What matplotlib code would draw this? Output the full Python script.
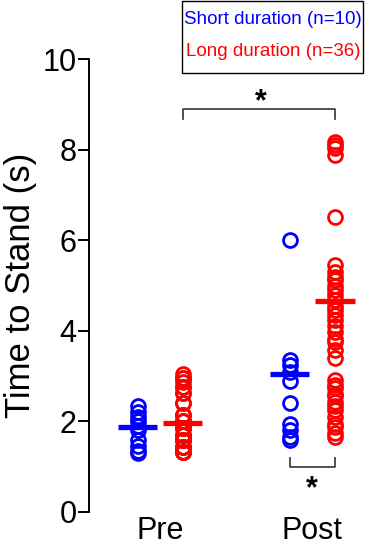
import numpy as np
import matplotlib
matplotlib.use("Agg")
import matplotlib.pyplot as plt
from matplotlib.patches import Rectangle

plt.rcParams['font.family'] = ['Liberation Sans', 'DejaVu Sans']

# data
groups = ["Pre", "Post"]
short_pre = [2.35, 2.2, 2.1, 2.0, 1.9, 1.8, 1.6, 1.45, 1.35, 1.3]
short_post = [6.0, 3.35, 3.25, 3.1, 2.9, 2.4, 1.95, 1.8, 1.65, 1.6]
long_pre = [3.05, 2.95, 2.95, 2.88, 2.77, 2.77, 2.63, 2.63, 2.4, 2.4,
            2.14, 2.14, 2.14, 2.0, 2.0, 2.0, 1.85, 1.85, 1.85, 1.85,
            1.7, 1.7, 1.7, 1.59, 1.59, 1.59, 1.59, 1.44, 1.44, 1.44,
            1.44, 1.33, 1.33, 1.33, 1.33, 1.33]
long_post = [8.17, 8.1, 8.03, 7.88, 6.52,
             5.45, 5.3, 5.19, 5.12, 5.0, 4.9, 4.8, 4.68, 4.55, 4.46,
             4.35, 4.24, 4.1, 3.98, 3.83, 3.76, 3.58, 3.39,
             2.91, 2.8, 2.73, 2.6, 2.55, 2.43, 2.35, 2.25, 2.1, 1.95,
             1.88, 1.75, 1.66]
short_means = [1.87, 3.05]
long_means = [1.97, 4.66]
labels = ["Short duration (n=10)", "Long duration (n=36)"]

blue = "#0000ff"
red = "#ff0000"
off = 0.148

fig = plt.figure(figsize=(3.67, 5.49), dpi=100)
ax = fig.add_axes([0.2425, 0.0674, 0.7575, 0.8251])

for i, (s, l) in enumerate([(short_pre, long_pre), (short_post, long_post)]):
    ax.plot([i - off] * len(s), s, 'o', mfc='none', mec=blue, ms=10, mew=2.0, clip_on=False)
    ax.plot([i + off] * len(l), l, 'o', mfc='none', mec=red, ms=10, mew=2.0, clip_on=False)
    ax.plot([i - off - 0.13, i - off + 0.13], [short_means[i]] * 2, color=blue, lw=3.8,
            solid_capstyle='butt')
    ax.plot([i + off - 0.13, i + off + 0.13], [long_means[i]] * 2, color=red, lw=3.8,
            solid_capstyle='butt')

# significance brackets
bc = "#333333"
ax.plot([off, off, 1 + off, 1 + off], [8.68, 8.9, 8.9, 8.68], color=bc, lw=1.2, clip_on=False)
ax.text(0.66, 9.05, "*", ha='center', va='center', fontsize=22, fontweight='bold')
ax.plot([1 - off, 1 - off, 1 + off, 1 + off], [1.19, 0.99, 0.99, 1.19], color=bc, lw=1.2, clip_on=False)
ax.text(1.0, 0.5, "*", ha='center', va='center', fontsize=22, fontweight='bold')

ax.set_xlim(-0.467, 1.36)
ax.set_ylim(0, 10)
ax.set_yticks([0, 2, 4, 6, 8, 10])
ax.set_xticks([0, 1])
ax.set_xticklabels(groups, fontsize=22)
ax.tick_params(axis='x', length=0, pad=3)
ax.tick_params(axis='y', length=8, width=1.4, labelsize=22, direction='out', pad=1)
for sp in ['top', 'right', 'bottom']:
    ax.spines[sp].set_visible(False)
ax.spines['left'].set_linewidth(1.4)
ax.spines['left'].set_bounds(0, 10)
ax.set_ylabel("Time to Stand (s)", fontsize=25, labelpad=4)

# legend box with coloured text
W, H = 367.0, 549.0
fig.patches.append(Rectangle((182 / W, 1 - 73 / H), 181 / W, 72 / H, transform=fig.transFigure,
                             fill=False, edgecolor='black', lw=1.0))
fig.text(273 / W, 1 - 20 / H, labels[0], color=blue, ha='center', va='center', fontsize=13.5)
fig.text(273 / W, 1 - 52 / H, labels[1], color=red, ha='center', va='center', fontsize=13.5)

fig.savefig("out.png", dpi=100)
